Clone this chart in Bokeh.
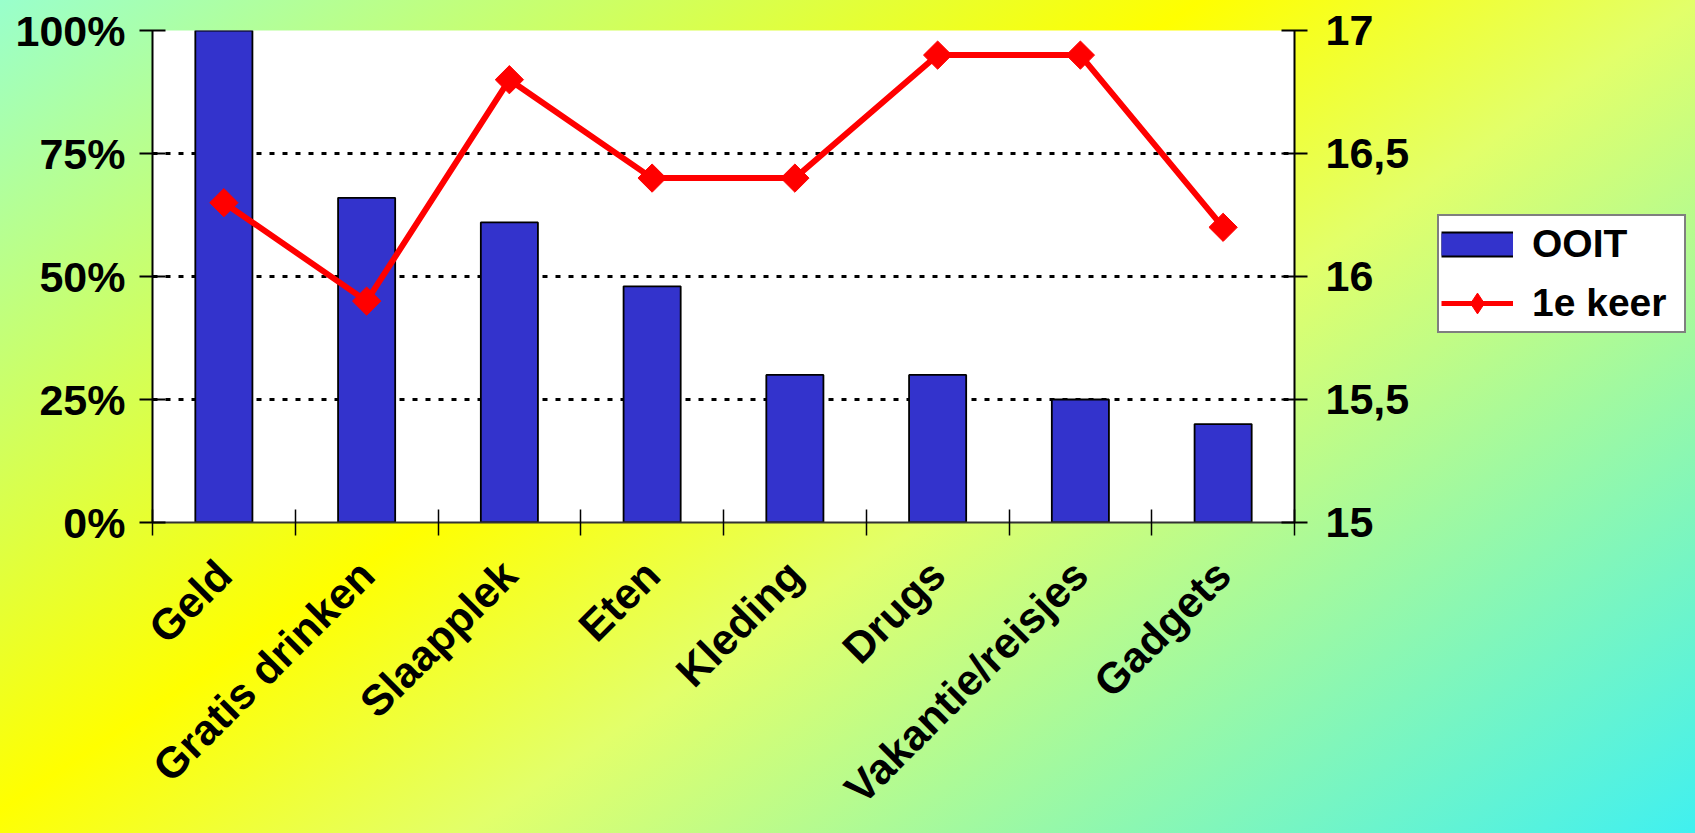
import math
from bokeh.plotting import figure
from bokeh.layouts import row
from bokeh.models import (Range1d, LinearAxis, FixedTicker, Legend, LegendItem,
                          ColumnDataSource)
from bokeh.embed import file_html
from bokeh.resources import INLINE

categories = ["Geld", "Gratis drinken", "Slaapplek", "Eten", "Kleding",
              "Drugs", "Vakantie/reisjes", "Gadgets"]
ooit_pct = [100, 66, 61, 48, 30, 30, 25, 20]
eerste_keer = [16.3, 15.9, 16.8, 16.4, 16.4, 16.9, 16.9, 16.2]
left_ticks = [0, 25, 50, 75, 100]
left_labels = ["0%", "25%", "50%", "75%", "100%"]
right_ticks = [15, 15.5, 16, 16.5, 17]
right_labels = ["15", "15,5", "16", "16,5", "17"]
series_names = ["OOIT", "1e keer"]

xpos = [i + 0.5 for i in range(len(categories))]
src = ColumnDataSource(dict(x=xpos, ooit=ooit_pct, keer=eerste_keer))

FONT = "Liberation Sans"
FS = "43px"
BLUE = "#3333cc"
RED = "#ff0000"
BORDERS = dict(min_border_top=30, min_border_bottom=311)

p = figure(width=1415, height=833, output_backend="svg", toolbar_location=None,
           x_range=Range1d(0, len(categories)), y_range=Range1d(0, 100),
           min_border_left=152, min_border_right=121, **BORDERS)
p.border_fill_alpha = 0
p.background_fill_color = "white"
p.outline_line_color = None

p.extra_y_ranges = {"right": Range1d(15, 17)}

# grid
p.xgrid.grid_line_color = None
p.ygrid.ticker = FixedTicker(ticks=left_ticks[1:], minor_ticks=[])
p.ygrid.grid_line_color = "black"
p.ygrid.grid_line_dash = "5 8"
p.ygrid.grid_line_width = 3

# bars
bars = p.vbar(x="x", top="ooit", width=0.4, bottom=0, source=src,
              fill_color=BLUE, line_color="black", line_width=1.8)
# line
ln = p.line(x="x", y="keer", source=src, y_range_name="right",
            line_color=RED, line_width=6)
mk = p.scatter(x="x", y="keer", source=src, y_range_name="right",
               marker="square", angle=math.pi / 4, size=20,
               fill_color=RED, line_color=RED)

# x axis
xa = p.xaxis[0]
xa.ticker = FixedTicker(ticks=xpos, minor_ticks=list(range(len(categories) + 1)))
xa.major_label_overrides = {x: c for x, c in zip(xpos, categories)}
xa.major_tick_in = 0
xa.major_tick_out = 0
xa.minor_tick_in = 13
xa.minor_tick_out = 13
xa.minor_tick_line_color = "black"
xa.minor_tick_line_width = 1.5
xa.axis_line_color = "#333333"
xa.axis_line_width = 2
xa.axis_label_standoff = 0
xa.major_label_orientation = math.pi / 4
xa.major_label_standoff = 32
xa.major_label_text_font = FONT
xa.major_label_text_font_style = "bold"
xa.major_label_text_font_size = "43px"
xa.major_label_text_color = "black"

# left axis
ya = p.yaxis[0]
ya.ticker = FixedTicker(ticks=left_ticks, minor_ticks=[])
ya.major_label_overrides = {t: l for t, l in zip(left_ticks, left_labels)}
ya.major_tick_in = 13
ya.major_tick_out = 13
ya.major_tick_line_color = "black"
ya.major_tick_line_width = 2
ya.axis_line_color = "black"
ya.axis_line_width = 2
ya.major_label_standoff = 14
ya.major_label_text_font = FONT
ya.major_label_text_font_style = "bold"
ya.major_label_text_font_size = FS
ya.major_label_text_color = "black"

# right axis
ra = LinearAxis(y_range_name="right",
                ticker=FixedTicker(ticks=right_ticks, minor_ticks=[]))
ra.major_label_overrides = {t: l for t, l in zip(right_ticks, right_labels)}
ra.major_tick_in = 13
ra.major_tick_out = 13
ra.major_tick_line_color = "black"
ra.major_tick_line_width = 2
ra.axis_line_color = "black"
ra.axis_line_width = 2
ra.major_label_standoff = 18
ra.major_label_text_font = FONT
ra.major_label_text_font_style = "bold"
ra.major_label_text_font_size = FS
ra.major_label_text_color = "black"
p.add_layout(ra, "right")

# legend panel (separate figure on the right, frames aligned with main plot)
lp = figure(width=280, height=833, output_backend="svg", toolbar_location=None,
            x_axis_type=None, y_axis_type=None,
            x_range=Range1d(0, 1), y_range=Range1d(0, 1),
            min_border_left=0, min_border_right=0, **BORDERS)
lp.border_fill_alpha = 0
lp.background_fill_alpha = 0
lp.outline_line_color = None
lp.grid.grid_line_color = None

lg_bar_edge = lp.line(x="x", y="ooit", source=src, line_color="black",
                      line_width=26, visible=False)
lg_bar = lp.line(x="x", y="ooit", source=src, line_color=BLUE,
                 line_width=22, visible=False)
lg_line = lp.line(x="x", y="keer", source=src, line_color=RED,
                  line_width=5, visible=False)
lg_mark = lp.scatter(x="x", y="keer", source=src, marker="diamond",
                     fill_color=RED, line_color=RED, visible=False)

legend = Legend(items=[LegendItem(label=series_names[0], renderers=[lg_bar_edge, lg_bar]),
                       LegendItem(label=series_names[1], renderers=[lg_line, lg_mark])],
                location=(22, 189))
legend.click_policy = "none"
legend.inactive_fill_alpha = 0
legend.label_text_font = FONT
legend.label_text_font_style = "bold"
legend.label_text_font_size = "39px"
legend.label_text_color = "black"
legend.glyph_width = 72
legend.glyph_height = 52
legend.label_height = 52
legend.label_width = 150
legend.label_standoff = 19
legend.padding = 2
legend.spacing = 7
legend.border_line_color = "black"
legend.border_line_width = 2
legend.background_fill_color = "white"
legend.background_fill_alpha = 1
lp.add_layout(legend)

layout = row(p, lp)
layout.styles = {"background-image":
                 "linear-gradient(146deg, #99ffcc 0%, #ffff00 41%, #e2ff6a 58%, #40f0f0 100%)"}

open("out.html", "w").write(file_html(layout, INLINE))
